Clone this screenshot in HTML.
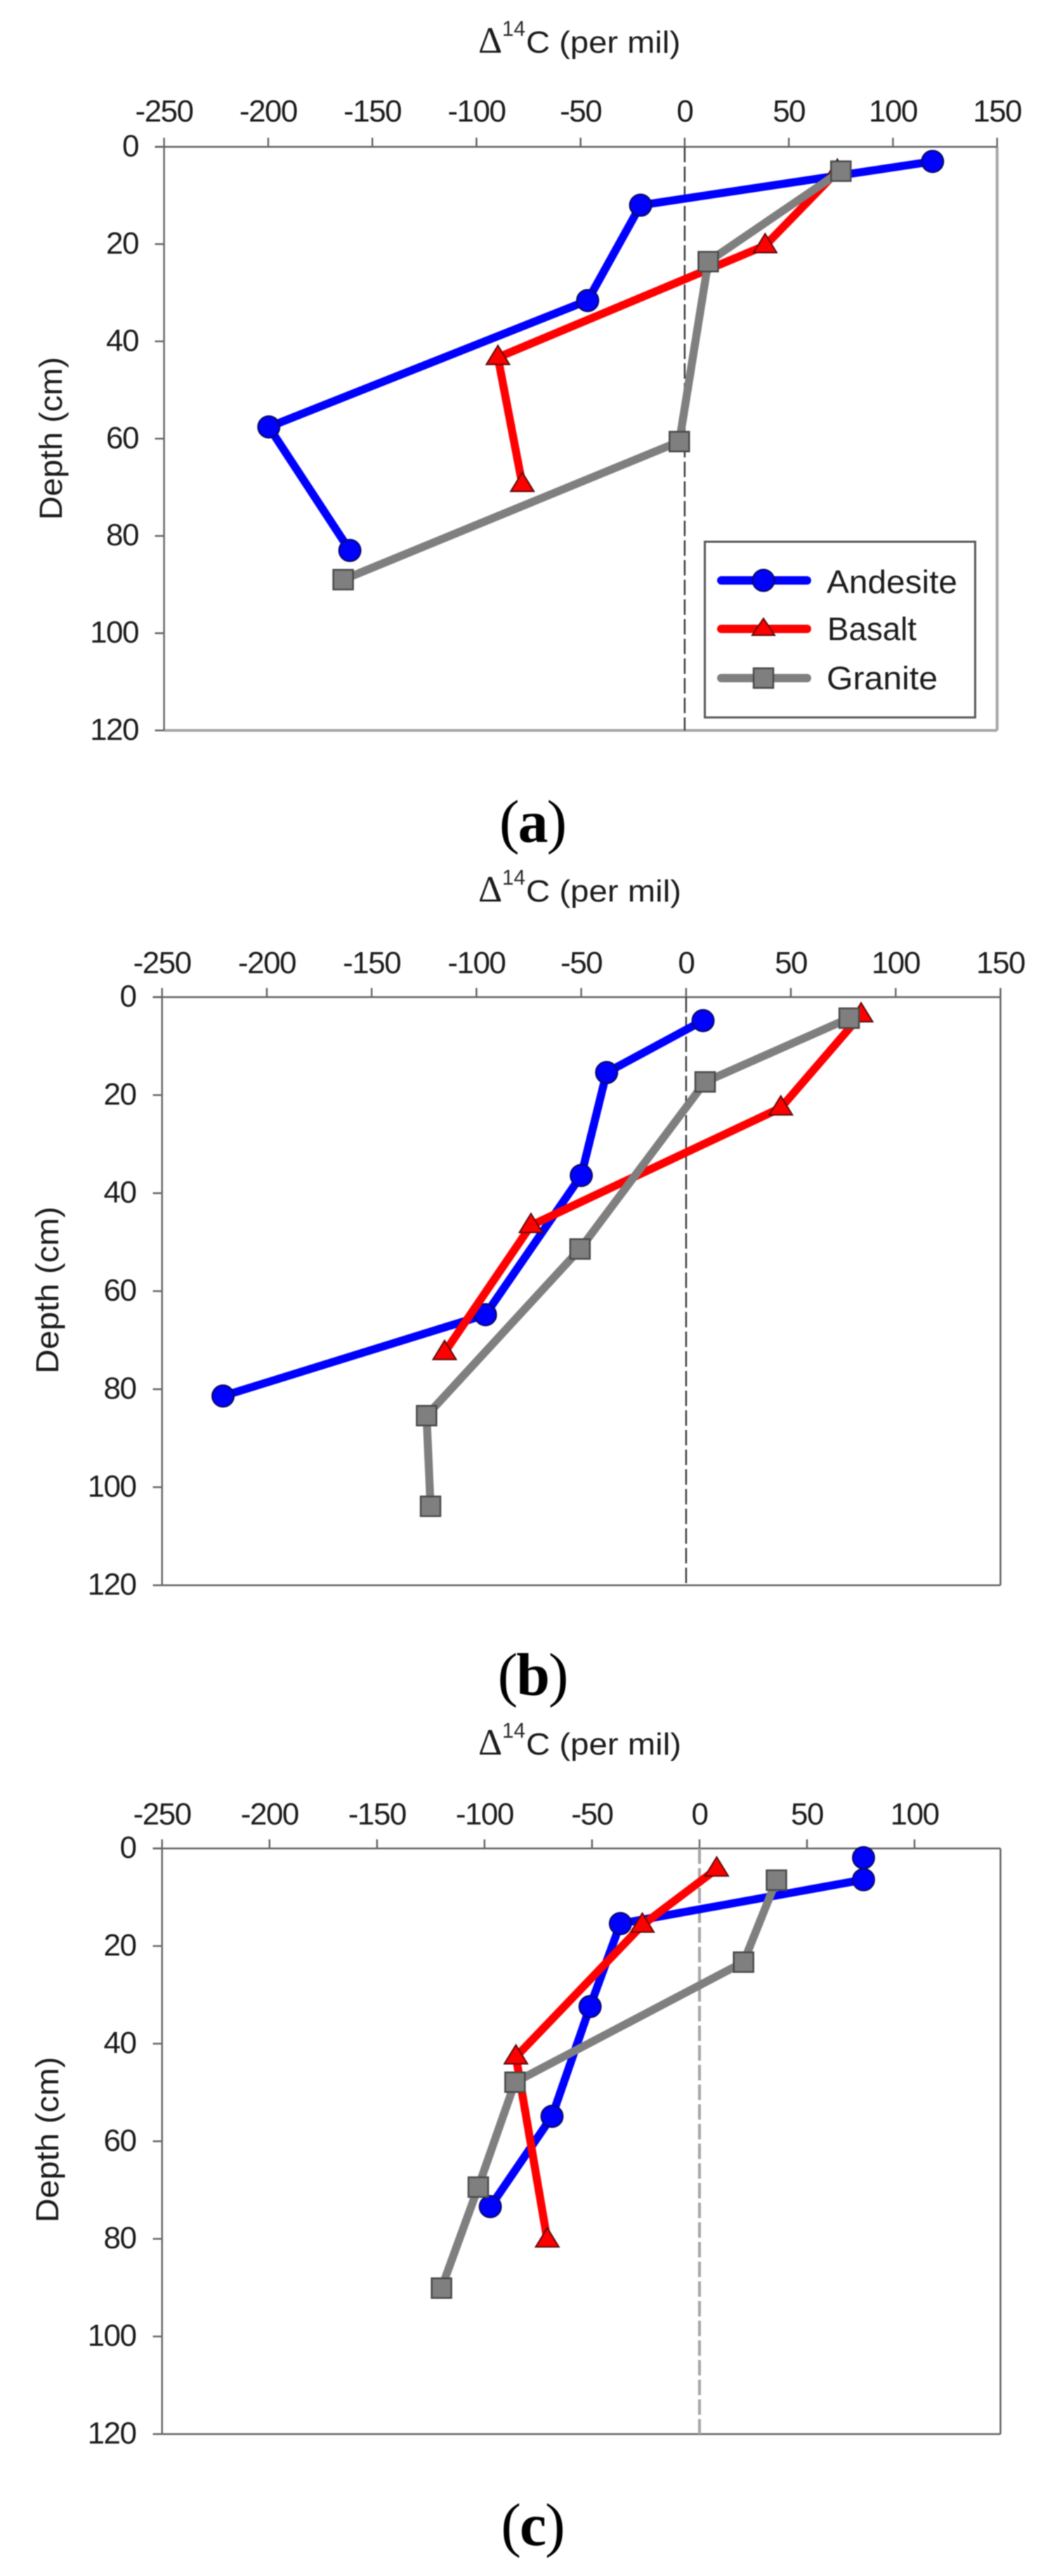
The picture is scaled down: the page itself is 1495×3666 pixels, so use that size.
<!DOCTYPE html>
<html lang="en">
<head>
<meta charset="utf-8">
<title>Radiocarbon depth profiles</title>
<style>
  html, body { margin: 0; padding: 0; background: #fff; }
  #figure { display: block; width: 1495px; height: 3666px; filter: blur(0.7px); }
  .tick { font-family: "Liberation Sans", sans-serif; font-size: 44px; letter-spacing: -1.5px; fill: #1c1c1c; }
  .axis-title { font-family: "Liberation Sans", sans-serif; font-size: 44px; fill: #1c1c1c; }
  .delta { font-family: "Liberation Serif", serif; font-size: 53px; fill: #1c1c1c; }
  .sup { font-family: "Liberation Sans", sans-serif; font-size: 31px; fill: #2a2a2a; }
  .legend-text { font-family: "Liberation Sans", sans-serif; font-size: 46px; fill: #1c1c1c; }
  .caption { font-family: "Liberation Serif", serif; font-size: 86px; letter-spacing: -2px; fill: #000; }
</style>
</head>
<body>
<svg id="figure" xmlns="http://www.w3.org/2000/svg" width="1495" height="3666" viewBox="0 0 1495 3666">
  <rect x="0" y="0" width="1495" height="3666" fill="#ffffff"/>

  <g>
    <text class="delta" x="681" y="75">Δ</text>
    <text class="sup" x="715" y="51" textLength="33" lengthAdjust="spacingAndGlyphs">14</text>
    <text class="axis-title" x="749" y="75" textLength="220" lengthAdjust="spacingAndGlyphs">C (per mil)</text>
    <text class="axis-title" font-size="45" style="font-size:45px" transform="translate(88,624) rotate(-90)" text-anchor="middle" textLength="232" lengthAdjust="spacingAndGlyphs">Depth (cm)</text>
    <text class="caption" x="758" y="1198" text-anchor="middle">(<tspan font-weight="bold">a</tspan>)</text>
  </g>

  <g>
    <text class="delta" x="681" y="1283">Δ</text>
    <text class="sup" x="715" y="1259" textLength="33" lengthAdjust="spacingAndGlyphs">14</text>
    <text class="axis-title" x="749" y="1283" textLength="221" lengthAdjust="spacingAndGlyphs">C (per mil)</text>
    <text class="axis-title" style="font-size:45px" transform="translate(83,1836) rotate(-90)" text-anchor="middle" textLength="238" lengthAdjust="spacingAndGlyphs">Depth (cm)</text>
    <text class="caption" x="758" y="2412" text-anchor="middle">(<tspan font-weight="bold">b</tspan>)</text>
  </g>

  <g>
    <text class="delta" x="681" y="2497">Δ</text>
    <text class="sup" x="715" y="2473" textLength="33" lengthAdjust="spacingAndGlyphs">14</text>
    <text class="axis-title" x="749" y="2497" textLength="221" lengthAdjust="spacingAndGlyphs">C (per mil)</text>
    <text class="axis-title" style="font-size:45px" transform="translate(83,3045) rotate(-90)" text-anchor="middle" textLength="236" lengthAdjust="spacingAndGlyphs">Depth (cm)</text>
    <text class="caption" x="758" y="3622" text-anchor="middle">(<tspan font-weight="bold">c</tspan>)</text>
  </g>

  <g id="plots"></g>

  <g>
    <rect x="1003.5" y="771" width="385" height="250" fill="#ffffff" stroke="#595959" stroke-width="3"/>
    <g>
      <line x1="1027" y1="826" x2="1149" y2="826" stroke="#0000ff" stroke-width="12" stroke-linecap="round"/>
      <circle cx="1087" cy="826" r="15.5" fill="#0000ff" stroke="#0a0a5c" stroke-width="2"/>
      <text class="legend-text" x="1177" y="844" textLength="186" lengthAdjust="spacingAndGlyphs">Andesite</text>
    </g>
    <g>
      <line x1="1027" y1="895" x2="1149" y2="895" stroke="#ff0000" stroke-width="12" stroke-linecap="round"/>
      <polygon points="1087,880 1103,904 1071,904" fill="#ff0000" stroke="#5c0a0a" stroke-width="2"/>
      <text class="legend-text" x="1178" y="911" textLength="127" lengthAdjust="spacingAndGlyphs">Basalt</text>
    </g>
    <g>
      <line x1="1027" y1="965" x2="1149" y2="965" stroke="#7f7f7f" stroke-width="12" stroke-linecap="round"/>
      <rect x="1073" y="951" width="28" height="28" fill="#7f7f7f" stroke="#4a4a4a" stroke-width="2.5"/>
      <text class="legend-text" x="1177" y="981" textLength="158" lengthAdjust="spacingAndGlyphs">Granite</text>
    </g>
  </g>
</svg>

<script>
// Tick labels
const xTicksWide = [-250, -200, -150, -100, -50, 0, 50, 100, 150];
const xTicksNarrow = [-250, -200, -150, -100, -50, 0, 50, 100];
const depthTicks = [0, 20, 40, 60, 80, 100, 120];

// Panel (a) values: delta-14C (per mil) and depth (cm)
const aAndesiteDelta = [119, -21.2, -46.6, -199.7, -160.8];
const aAndesiteDepth = [3, 12, 31.6, 57.6, 83];
const aBasaltDelta = [73.3, 38.6, -89.7, -78];
const aBasaltDepth = [5, 20.3, 43.3, 69.4];
const aGraniteDelta = [75, 11.3, -2.6, -164];
const aGraniteDepth = [5, 23.6, 60.6, 89];

// Panel (b) values
const bAndesiteDelta = [8.1, -37.9, -50, -95.7, -220.9];
const bAndesiteDepth = [4.8, 15.4, 36.4, 64.8, 81.4];
const bBasaltDelta = [83.5, 45.2, -74, -115.2];
const bBasaltDepth = [3.6, 22.6, 46.6, 72.5];
const bGraniteDelta = [77.8, 9.1, -50.6, -123.8, -121.9];
const bGraniteDepth = [4.3, 17.3, 51.4, 85.4, 103.9];

// Panel (c) values
const cAndesiteDelta = [76.3, 76.3, -36.8, -50.9, -68.6, -97.3];
const cAndesiteDepth = [1.9, 6.4, 15.4, 32.4, 54.9, 73.4];
const cBasaltDelta = [8, -26.6, -85.4, -70.8];
const cBasaltDepth = [4.2, 15.7, 42.7, 80.2];
const cGraniteDelta = [35.8, 20.5, -85.8, -102.9, -120];
const cGraniteDepth = [6.5, 23.3, 47.9, 69.4, 90.1];

const NS = 'http://www.w3.org/2000/svg';

function make(tag, attrs, parent) {
  const el = document.createElementNS(NS, tag);
  for (const k in attrs) el.setAttribute(k, attrs[k]);
  parent.appendChild(el);
  return el;
}

const panels = [
  { id: 'a', left: 233.6, right: 1419.7, top: 209, bottom: 1039.5, xMin: -250, xMax: 150, xTicks: xTicksWide,
    tickBaseline: 173, labelRight: 197, frameFar: '#a6a6a6', farWidth: 4, zero: '#404040', zeroWidth: 2.5,
    andesite: [aAndesiteDelta, aAndesiteDepth], basalt: [aBasaltDelta, aBasaltDepth], granite: [aGraniteDelta, aGraniteDepth] },
  { id: 'b', left: 230.7, right: 1424.5, top: 1419, bottom: 2256, xMin: -250, xMax: 150, xTicks: xTicksWide,
    tickBaseline: 1385, labelRight: 193.5, frameFar: '#666666', farWidth: 2.5, zero: '#404040', zeroWidth: 2.5,
    andesite: [bAndesiteDelta, bAndesiteDepth], basalt: [bBasaltDelta, bBasaltDepth], granite: [bGraniteDelta, bGraniteDepth] },
  { id: 'c', left: 230.7, right: 1424.5, top: 2630.6, bottom: 3464, xMin: -250, xMax: 140, xTicks: xTicksNarrow,
    tickBaseline: 2596.5, labelRight: 193.5, frameFar: '#666666', farWidth: 2.5, zero: '#a6a6a6', zeroWidth: 4,
    andesite: [cAndesiteDelta, cAndesiteDepth], basalt: [cBasaltDelta, cBasaltDepth], granite: [cGraniteDelta, cGraniteDepth] }
];

function xScale(p, v) { return p.left + (v - p.xMin) / (p.xMax - p.xMin) * (p.right - p.left); }
function yScale(p, d) { return p.top + d / 120 * (p.bottom - p.top); }

function drawMarker(kind, cx, cy, parent) {
  if (kind === 'andesite') {
    return make('circle', { cx: cx, cy: cy, r: 15.5, fill: '#0000ff', stroke: '#0a0a5c', 'stroke-width': 2 }, parent);
  }
  if (kind === 'basalt') {
    const pts = cx + ',' + (cy - 17) + ' ' + (cx + 16.5) + ',' + (cy + 10) + ' ' + (cx - 16.5) + ',' + (cy + 10);
    return make('polygon', { points: pts, fill: '#ff0000', stroke: '#5c0a0a', 'stroke-width': 2 }, parent);
  }
  return make('rect', { x: cx - 14, y: cy - 14, width: 28, height: 28, fill: '#7f7f7f', stroke: '#4a4a4a', 'stroke-width': 2.5 }, parent);
}

const seriesColors = { andesite: '#0000ff', basalt: '#ff0000', granite: '#7f7f7f' };
const plotsRoot = document.getElementById('plots');

panels.forEach(function (p) {
  const g = make('g', {}, plotsRoot);
  
  

  const axisColor = '#666666';

  const farRight = make('line', { x1: p.right, y1: p.top, x2: p.right, y2: p.bottom, stroke: p.frameFar, 'stroke-width': p.farWidth }, g);
  
  

  const farBottom = make('line', { x1: p.left, y1: p.bottom, x2: p.right, y2: p.bottom, stroke: p.frameFar, 'stroke-width': p.farWidth }, g);
  
  

  const topAxis = make('line', { x1: p.left - 13, y1: p.top, x2: p.right, y2: p.top, stroke: axisColor, 'stroke-width': 2.5 }, g);
  
  

  const leftAxis = make('line', { x1: p.left, y1: p.top, x2: p.left, y2: p.bottom, stroke: axisColor, 'stroke-width': 2.5 }, g);
  
  

  const zeroLine = make('line', { x1: xScale(p, 0), y1: p.top, x2: xScale(p, 0), y2: p.bottom, stroke: p.zero, 'stroke-width': p.zeroWidth, 'stroke-dasharray': '22 6' }, g);
  
  

  p.xTicks.forEach(function (v) {
    const x = xScale(p, v);
    const tick = make('line', { x1: x, y1: p.top - 13, x2: x, y2: p.top, stroke: axisColor, 'stroke-width': 2.5 }, g);
    
    
    const label = make('text', { x: x, y: p.tickBaseline, 'text-anchor': 'middle', class: 'tick' }, g);
    label.textContent = String(v);
    
    
  });

  depthTicks.forEach(function (d) {
    const y = yScale(p, d);
    const tick = make('line', { x1: p.left - 13, y1: y, x2: p.left, y2: y, stroke: axisColor, 'stroke-width': 2.5 }, g);
    
    
    const label = make('text', { x: p.labelRight, y: y + 13.5, 'text-anchor': 'end', class: 'tick' }, g);
    label.textContent = String(d);
    
    
  });

  ['andesite', 'basalt', 'granite'].forEach(function (kind) {
    const deltas = p[kind][0];
    const depths = p[kind][1];
    const sg = make('g', {}, g);
    
    

    const pts = deltas.map(function (v, i) { return xScale(p, v) + ',' + yScale(p, depths[i]); }).join(' ');
    const line = make('polyline', { points: pts, fill: 'none', stroke: seriesColors[kind], 'stroke-width': 11.5, 'stroke-linejoin': 'round', 'stroke-linecap': 'round' }, sg);
    
    

    deltas.forEach(function (v, i) {
      const marker = drawMarker(kind, xScale(p, v), yScale(p, depths[i]), sg);
      
      
    });
  });
});
</script>
</body>
</html>
